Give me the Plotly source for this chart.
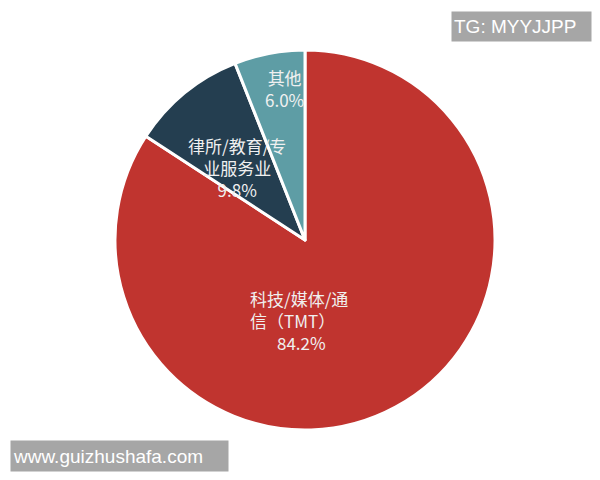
import plotly.graph_objects as go

sectors = ["科技/媒体/通信（TMT）", "律所/教育/专业服务业", "其他"]
label_lines = ["科技/媒体/通<br>信（TMT）", "律所/教育/专<br>业服务业", "其他"]
shares = [84.2, 9.8, 6.0]
colors = ["#C0342F", "#243E50", "#5E9DA5"]

# page is drawn with the browser's 8px body margin, so positions are in figure pixels
W, H = 600, 480


def px_x(v):
    return v / W


def px_y(v):
    return 1 - v / H


fig = go.Figure(
    go.Pie(
        labels=sectors,
        values=shares,
        marker=dict(colors=colors, line=dict(color="white", width=3)),
        sort=False,
        direction="clockwise",
        rotation=0,
        textinfo="none",
        hoverinfo="label+percent",
        domain=dict(x=[px_x(107), px_x(487)], y=[px_y(422), px_y(42)]),
        showlegend=False,
    )
)

label_font = dict(family="Noto Sans CJK SC", size=17, color="#F0F0F0")

# TMT: name left-aligned, percent centred below
fig.add_annotation(
    x=px_x(240), y=px_y(301), xref="paper", yref="paper", xanchor="left", yanchor="middle",
    text=label_lines[0], align="left", showarrow=False, font=label_font,
)
fig.add_annotation(
    x=px_x(293), y=px_y(334), xref="paper", yref="paper", xanchor="center", yanchor="middle",
    text=f"{shares[0]:.1f}%", showarrow=False, font=label_font,
)
fig.add_annotation(
    x=px_x(229), y=px_y(159), xref="paper", yref="paper", xanchor="center", yanchor="middle",
    text=f"{label_lines[1]}<br>{shares[1]:.1f}%", align="center", showarrow=False, font=label_font,
)
fig.add_annotation(
    x=px_x(276), y=px_y(81), xref="paper", yref="paper", xanchor="center", yanchor="middle",
    text=f"{label_lines[2]}<br>{shares[2]:.1f}%", align="center", showarrow=False, font=label_font,
)

mark_font = dict(family="Liberation Sans", size=19, color="white")
fig.add_annotation(
    x=px_x(443), y=px_y(3), xref="paper", yref="paper", xanchor="left", yanchor="top",
    text="TG: MYYJJPP", showarrow=False, bgcolor="#A6A6A6", borderpad=2,
    width=135, height=25, align="left", font=mark_font,
)
fig.add_annotation(
    x=px_x(2), y=px_y(432), xref="paper", yref="paper", xanchor="left", yanchor="top",
    text="www.guizhushafa.com", showarrow=False, bgcolor="#A6A6A6", borderpad=2,
    width=213, height=26, align="left", font=mark_font,
)

fig.update_layout(
    width=W, height=H,
    margin=dict(l=0, r=0, t=0, b=0),
    paper_bgcolor="white",
)

fig.write_html("out.html")
